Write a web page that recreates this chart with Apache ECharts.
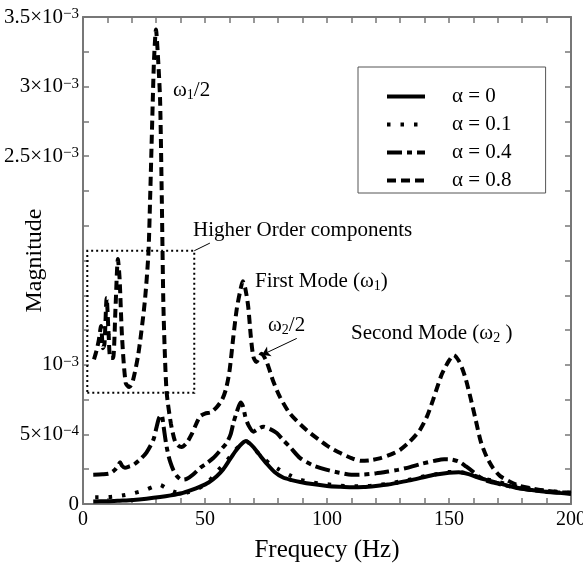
<!DOCTYPE html>
<html><head><meta charset="utf-8">
<script src="https://cdn.jsdelivr.net/npm/echarts@6/dist/echarts.min.js"></script>
<style>html,body{margin:0;padding:0;background:#fff}#c{width:583px;height:569px}</style>
</head><body><div id="c"></div>
<script>
// values of Magnitude are in units of 10^-3
const seriesNames = ['α = 0', 'α = 0.1', 'α = 0.4', 'α = 0.8'];
const alpha0 = [[4.2,0.018],[10,0.02],[15,0.024],[20.6,0.029],[26,0.038],[31.6,0.05],[36,0.062],[40.4,0.077],[44,0.098],[48,0.125],[51.5,0.155],[54.8,0.2],[57.5,0.25],[60.2,0.32],[62.5,0.38],[64.3,0.42],[65.8,0.445],[66.8,0.453],[68,0.44],[69.8,0.41],[72.5,0.35],[75.3,0.29],[78.5,0.23],[82,0.19],[85.5,0.172],[89,0.158],[94,0.143],[100,0.13],[105,0.124],[110,0.12],[115,0.122],[120,0.13],[125,0.14],[129,0.153],[134,0.17],[139,0.19],[144,0.21],[150,0.225],[154,0.228],[158,0.215],[161,0.196],[165,0.175],[169.5,0.153],[174,0.132],[178.5,0.113],[184,0.1],[189.5,0.088],[195,0.08],[200,0.072]];
const alpha01 = [[5,0.048],[10.3,0.05],[15.7,0.06],[20.6,0.077],[25.3,0.1],[29,0.125],[31.6,0.137],[33.5,0.12],[35.7,0.1],[38,0.085],[40.4,0.08],[43,0.085],[46,0.1],[50.8,0.15],[55.5,0.245],[58,0.29],[60.2,0.34],[62.5,0.39],[64.3,0.42],[66,0.445],[67,0.45],[68.5,0.43],[71.2,0.376],[74,0.33],[76.6,0.29],[80.7,0.245],[85.5,0.2],[89,0.175],[94,0.155],[100,0.142],[105,0.133],[110,0.128],[115,0.128],[120,0.135],[125,0.146],[130,0.162],[135,0.18],[140,0.2],[145,0.215],[150,0.23],[155,0.228],[158,0.215],[161,0.2],[165,0.18],[170,0.16],[175,0.135],[180,0.12],[185,0.105],[190,0.095],[195,0.087],[200,0.08]];
const alpha04 = [[4.2,0.21],[8,0.213],[11,0.22],[13,0.245],[14.5,0.28],[15.2,0.3],[16,0.275],[17.2,0.26],[19,0.27],[20.6,0.28],[23.4,0.32],[26,0.37],[28.8,0.46],[30.2,0.556],[31.2,0.62],[32.2,0.64],[33,0.56],[34,0.44],[35,0.35],[36,0.29],[37,0.245],[38.5,0.2],[40.4,0.175],[42.5,0.18],[45,0.21],[48,0.26],[50.5,0.29],[53.4,0.33],[56,0.38],[58.9,0.44],[60.5,0.5],[61.6,0.58],[63,0.66],[64.6,0.73],[65.6,0.7],[66.5,0.63],[67.7,0.57],[69.8,0.52],[71.8,0.54],[73.9,0.556],[76.5,0.54],[79.4,0.51],[82,0.46],[84.8,0.41],[89,0.33],[94,0.28],[100,0.245],[105,0.225],[110,0.21],[115,0.212],[120,0.22],[125,0.233],[129,0.245],[134,0.265],[139,0.29],[144,0.31],[148,0.322],[151,0.32],[154,0.305],[157,0.27],[160,0.23],[162,0.2],[165,0.17],[169,0.15],[174,0.13],[178.5,0.115],[184,0.1],[189.5,0.09],[195,0.083],[200,0.078]];
const alpha08 = [[4.5,1.04],[5.5,1.1],[6.5,1.18],[7.4,1.28],[8.2,1.12],[8.8,1.15],[9.7,1.48],[10.5,1.22],[11.2,1.05],[12.3,1.05],[13.3,1.4],[14.3,1.76],[15,1.62],[16,1.2],[17.5,0.87],[19,0.84],[20.5,0.89],[22.7,1.08],[25.3,1.45],[26.8,1.8],[27.5,2.19],[28.6,2.9],[29.1,3.19],[29.9,3.41],[30.8,3.19],[31.6,2.9],[32.3,2.19],[32.9,1.47],[33.5,1.1],[34.3,0.8],[36,0.58],[37.7,0.45],[39,0.42],[40.4,0.41],[42.5,0.44],[44.5,0.5],[46.5,0.58],[48,0.63],[50,0.65],[52.5,0.66],[55,0.7],[57,0.75],[58.5,0.82],[60,0.95],[61.6,1.2],[63,1.4],[64.3,1.52],[65.5,1.6],[66.5,1.55],[67.7,1.42],[68.8,1.2],[69.8,1.06],[71,1.02],[73.2,1.08],[75.3,1.02],[78,0.88],[80.7,0.77],[84.8,0.65],[91.7,0.53],[100,0.42],[105,0.37],[110,0.33],[114,0.31],[118,0.315],[122,0.33],[126,0.355],[130,0.39],[134,0.45],[138,0.53],[141,0.63],[143.5,0.75],[147,0.93],[150,1.03],[152,1.07],[154,1.03],[155.5,0.97],[157,0.89],[159,0.75],[161,0.6],[163,0.45],[165.4,0.34],[168,0.26],[171,0.2],[175,0.16],[179,0.13],[185,0.108],[190,0.094],[195,0.085],[200,0.08]];

const xTickLabels = [0, 50, 100, 150, 200];
const yTickValues = [0, 0.5, 1, 2.5, 3, 3.5];
const yTickBase = ['0', '5×10', '10', '2.5×10', '3×10', '3.5×10'];
const yTickExp = ['', '−4', '−3', '−3', '−3', '−3'];

const FF = 'Liberation Serif, Times New Roman, serif';
const AX = '#777';
const LW = 4;

const chart = echarts.init(document.getElementById('c'), null, {renderer: 'canvas'});

function xFmt(v) { return xTickLabels.indexOf(Math.round(v)) >= 0 && Math.abs(v - Math.round(v)) < 1e-6 ? String(Math.round(v)) : ''; }
function yFmt(v) {
  const i = yTickValues.findIndex(t => Math.abs(t - v) < 1e-6);
  if (i < 0) return '';
  return yTickExp[i] ? '{b|' + yTickBase[i] + '}{s|' + yTickExp[i] + '}' : '{b|' + yTickBase[i] + '}';
}

const axisCommon = {
  type: 'value',
  axisLine: {show: true, onZero: false, lineStyle: {color: AX, width: 2}},
  axisTick: {show: true, inside: true, length: 6, lineStyle: {color: AX, width: 1.5}},
  splitLine: {show: false}
};

const lineBase = {type: 'line', symbol: 'none', symbolSize: 0, showSymbol: false, smooth: 0.25, animation: false, clip: true};

chart.setOption({
  animation: false,
  backgroundColor: '#fff',
  grid: {left: 83, right: 12, top: 17, bottom: 65, containLabel: false, outerBoundsMode: 'none'},
  legend: {
    data: seriesNames,
    orient: 'vertical', left: 358, top: 67,
    padding: [19, 34, 2, 27],
    itemWidth: 38, itemHeight: 20, itemGap: 7,
    borderColor: '#555', borderWidth: 1,
    selectedMode: false,
    itemStyle: {opacity: 0, borderWidth: 0},
    lineStyle: {width: LW, type: 'inherit', color: '#000'},
    formatter: n => '{g|}{t|' + n + '}',
    textStyle: {fontFamily: FF, fontSize: 21, color: '#000',
      rich: {g: {width: 22}, t: {fontFamily: FF, fontSize: 21, color: '#000'}}}
  },
  xAxis: [
    Object.assign({}, axisCommon, {
      min: 0, max: 200, interval: 10, position: 'bottom',
      axisLabel: {formatter: xFmt, fontFamily: FF, fontSize: 20, color: '#000', margin: 6},
      name: 'Frequecy (Hz)', nameLocation: 'middle', nameGap: 34, nameMoveOverlap: false,
      nameTextStyle: {fontFamily: FF, fontSize: 25, color: '#000'}
    }),
    Object.assign({}, axisCommon, {
      min: 0, max: 200, interval: 10, position: 'top', axisLabel: {show: false}
    })
  ],
  yAxis: [
    Object.assign({}, axisCommon, {
      min: 0, max: 3.5, interval: 0.25, position: 'left',
      axisLabel: {formatter: yFmt, margin: 4, color: '#000',
        rich: {
          b: {fontFamily: FF, fontSize: 21, color: '#000', lineHeight: 21},
          s: {fontFamily: FF, fontSize: 15, color: '#000', lineHeight: 15, verticalAlign: 'top'}
        }},
      name: 'Magnitude', nameLocation: 'middle', nameGap: 36, nameMoveOverlap: false,
      nameTextStyle: {fontFamily: FF, fontSize: 24, color: '#000'}
    }),
    Object.assign({}, axisCommon, {
      min: 0, max: 3.5, interval: 0.25, position: 'right', axisLabel: {show: false}
    })
  ],
  series: [
    Object.assign({}, lineBase, {name: seriesNames[0], data: alpha0,
      lineStyle: {color: '#000', width: LW, type: 'solid'}, itemStyle: {color: '#000'}}),
    Object.assign({}, lineBase, {name: seriesNames[1], data: alpha01,
      lineStyle: {color: '#000', width: LW, type: [3.5, 10]}, itemStyle: {color: '#000'}}),
    Object.assign({}, lineBase, {name: seriesNames[2], data: alpha04,
      lineStyle: {color: '#000', width: LW, type: [15, 5, 5, 5]}, itemStyle: {color: '#000'},
      markLine: {silent: true, animation: false, symbol: ['none', 'arrow'], symbolSize: 8,
        label: {show: false}, lineStyle: {color: '#000', width: 1, type: 'solid'},
        data: [[{coord: [87.6, 1.19]}, {coord: [73.4, 1.072]}]]}}),
    Object.assign({}, lineBase, {name: seriesNames[3], data: alpha08,
      lineStyle: {color: '#000', width: LW, type: [9, 5]}, itemStyle: {color: '#000'},
      markArea: {silent: true, animation: false,
        itemStyle: {color: 'rgba(0,0,0,0)', borderColor: '#000', borderWidth: 2, borderType: [2, 3]},
        data: [[{coord: [1.76, 0.8]}, {coord: [45.6, 1.82]}]]},
      markLine: {silent: true, animation: false, symbol: ['none', 'none'],
        label: {show: false}, lineStyle: {color: '#000', width: 1, type: 'solid'},
        data: [[{coord: [45.6, 1.82]}, {coord: [52, 1.875]}]]}})
  ],
  graphic: [
    {type: 'text', left: 173, top: 80, style: {text: '{a|ω}{b|1}{a|/2}', rich: {
      a: {fontFamily: FF, fontSize: 21, fill: '#000', lineHeight: 24},
      b: {fontFamily: FF, fontSize: 14, fill: '#000', lineHeight: 14, verticalAlign: 'bottom'}}}},
    {type: 'text', left: 193, top: 220, style: {text: 'Higher Order components', font: '21px ' + FF, fill: '#000'}},
    {type: 'text', left: 255, top: 271, style: {text: '{a|First Mode (ω}{b|1}{a|)}', rich: {
      a: {fontFamily: FF, fontSize: 21, fill: '#000', lineHeight: 24},
      b: {fontFamily: FF, fontSize: 14, fill: '#000', lineHeight: 14, verticalAlign: 'bottom'}}}},
    {type: 'text', left: 268, top: 315, style: {text: '{a|ω}{b|2}{a|/2}', rich: {
      a: {fontFamily: FF, fontSize: 21, fill: '#000', lineHeight: 24},
      b: {fontFamily: FF, fontSize: 14, fill: '#000', lineHeight: 14, verticalAlign: 'bottom'}}}},
    {type: 'text', left: 351, top: 323, style: {text: '{a|Second Mode (ω}{b|2}{a| )}', rich: {
      a: {fontFamily: FF, fontSize: 21, fill: '#000', lineHeight: 24},
      b: {fontFamily: FF, fontSize: 14, fill: '#000', lineHeight: 14, verticalAlign: 'bottom'}}}}
  ]
});
</script>
</body></html>
